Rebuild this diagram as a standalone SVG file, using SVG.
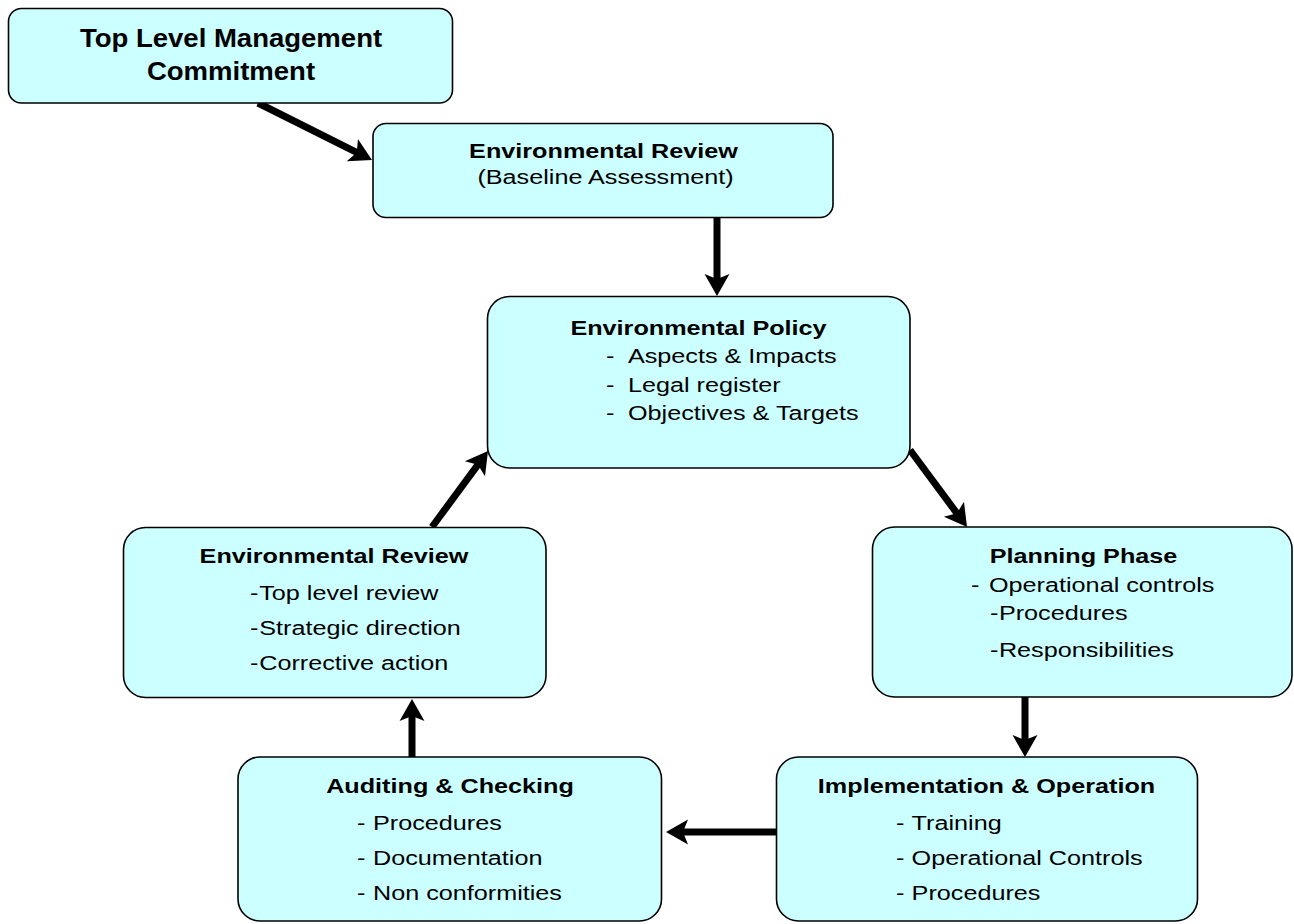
<svg xmlns="http://www.w3.org/2000/svg" width="1294" height="924" viewBox="0 0 1294 924">
<defs>
<style>
.box{fill:#CCFFFF;stroke:#000;stroke-width:1.6}
.t{font-family:"Liberation Sans",Arial,sans-serif;font-weight:bold;font-size:21px;fill:#000}
.b{font-family:"Liberation Sans",Arial,sans-serif;font-size:21px;fill:#000}
.big{font-family:"Liberation Sans",Arial,sans-serif;font-weight:bold;font-size:25.5px;fill:#000}
.arr{stroke:#000;stroke-width:7;fill:none;marker-end:url(#ah)}
</style>
<marker id="ah" markerUnits="userSpaceOnUse" markerWidth="30" markerHeight="30" viewBox="0 -15 30 30" refX="7" refY="0" orient="auto">
<path d="M0,-12.5 L22,0 L0,12.5 L5,0 Z" fill="#000"/>
</marker>
</defs>
<rect width="1294" height="924" fill="#fff"/>
<g id="connectors">
<line class="arr" x1="258" y1="103" x2="358.6" y2="153.3"/>
<line class="arr" x1="717" y1="218" x2="717" y2="281"/>
<line class="arr" x1="910" y1="450" x2="958.1" y2="514.9"/>
<line class="arr" x1="1025" y1="697" x2="1025" y2="742"/>
<line class="arr" x1="776" y1="832" x2="681" y2="832"/>
<line class="arr" x1="412" y1="757" x2="412" y2="714"/>
<line class="arr" x1="432" y1="527" x2="479.1" y2="463.1"/>
</g>
<g id="top-commitment">
<rect class="box" x="8.5" y="8.5" width="444" height="94.5" rx="13"/>
<text class="big" text-anchor="middle" transform="translate(231,47) scale(1.08,1)">Top Level Management</text>
<text class="big" text-anchor="middle" transform="translate(231,80) scale(1.08,1)">Commitment</text>
</g>
<g id="env-review-baseline">
<rect class="box" x="373" y="123.5" width="460" height="94" rx="13"/>
<text class="t" text-anchor="middle" transform="translate(603.5,158) scale(1.2,1)">Environmental Review</text>
<text class="b" text-anchor="middle" transform="translate(605.5,184) scale(1.2,1)">(Baseline Assessment)</text>
</g>
<g id="env-policy">
<rect class="box" x="487.5" y="296.5" width="422.5" height="171.5" rx="22"/>
<text class="t" text-anchor="middle" transform="translate(698.5,335) scale(1.2,1)">Environmental Policy</text>
<text class="b" transform="translate(606,363) scale(1.2,1)"><tspan x="0">- </tspan><tspan x="18.3">Aspects &amp; Impacts</tspan></text>
<text class="b" transform="translate(606,392) scale(1.2,1)"><tspan x="0">- </tspan><tspan x="18.3">Legal register</tspan></text>
<text class="b" transform="translate(606,420) scale(1.2,1)"><tspan x="0">- </tspan><tspan x="18.3">Objectives &amp; Targets</tspan></text>
</g>
<g id="env-review-top">
<rect class="box" x="123.5" y="527.5" width="422.5" height="170" rx="22"/>
<text class="t" text-anchor="middle" transform="translate(334,563) scale(1.2,1)">Environmental Review</text>
<text class="b" transform="translate(250,600) scale(1.2,1)"><tspan x="0">-</tspan><tspan x="7.7">Top level review</tspan></text>
<text class="b" transform="translate(250,635) scale(1.2,1)"><tspan x="0">-</tspan><tspan x="7.7">Strategic direction</tspan></text>
<text class="b" transform="translate(250,670) scale(1.2,1)"><tspan x="0">-</tspan><tspan x="7.7">Corrective action</tspan></text>
</g>
<g id="planning">
<rect class="box" x="872.5" y="527" width="419.5" height="170" rx="22"/>
<text class="t" text-anchor="middle" transform="translate(1083.5,563) scale(1.2,1)">Planning Phase</text>
<text class="b" transform="translate(971,592) scale(1.2,1)"><tspan x="0">- </tspan><tspan x="15">Operational controls</tspan></text>
<text class="b" transform="translate(990,620) scale(1.2,1)"><tspan x="0">-</tspan><tspan x="7.4">Procedures</tspan></text>
<text class="b" transform="translate(990,657) scale(1.2,1)"><tspan x="0">-</tspan><tspan x="7.4">Responsibilities</tspan></text>
</g>
<g id="auditing">
<rect class="box" x="238" y="757" width="423.5" height="164" rx="22"/>
<text class="t" text-anchor="middle" transform="translate(450,793) scale(1.2,1)">Auditing &amp; Checking</text>
<text class="b" transform="translate(357,830) scale(1.2,1)"><tspan x="0">- </tspan><tspan x="13.3">Procedures</tspan></text>
<text class="b" transform="translate(357,865) scale(1.2,1)"><tspan x="0">- </tspan><tspan x="13.3">Documentation</tspan></text>
<text class="b" transform="translate(357,900) scale(1.2,1)"><tspan x="0">- </tspan><tspan x="13.3">Non conformities</tspan></text>
</g>
<g id="implementation">
<rect class="box" x="776.5" y="757" width="421" height="164" rx="22"/>
<text class="t" text-anchor="middle" transform="translate(986.5,793) scale(1.2,1)">Implementation &amp; Operation</text>
<text class="b" transform="translate(896,830) scale(1.2,1)"><tspan x="0">- </tspan><tspan x="13">Training</tspan></text>
<text class="b" transform="translate(896,865) scale(1.2,1)"><tspan x="0">- </tspan><tspan x="13">Operational Controls</tspan></text>
<text class="b" transform="translate(896,900) scale(1.2,1)"><tspan x="0">- </tspan><tspan x="13">Procedures</tspan></text>
</g>
</svg>
